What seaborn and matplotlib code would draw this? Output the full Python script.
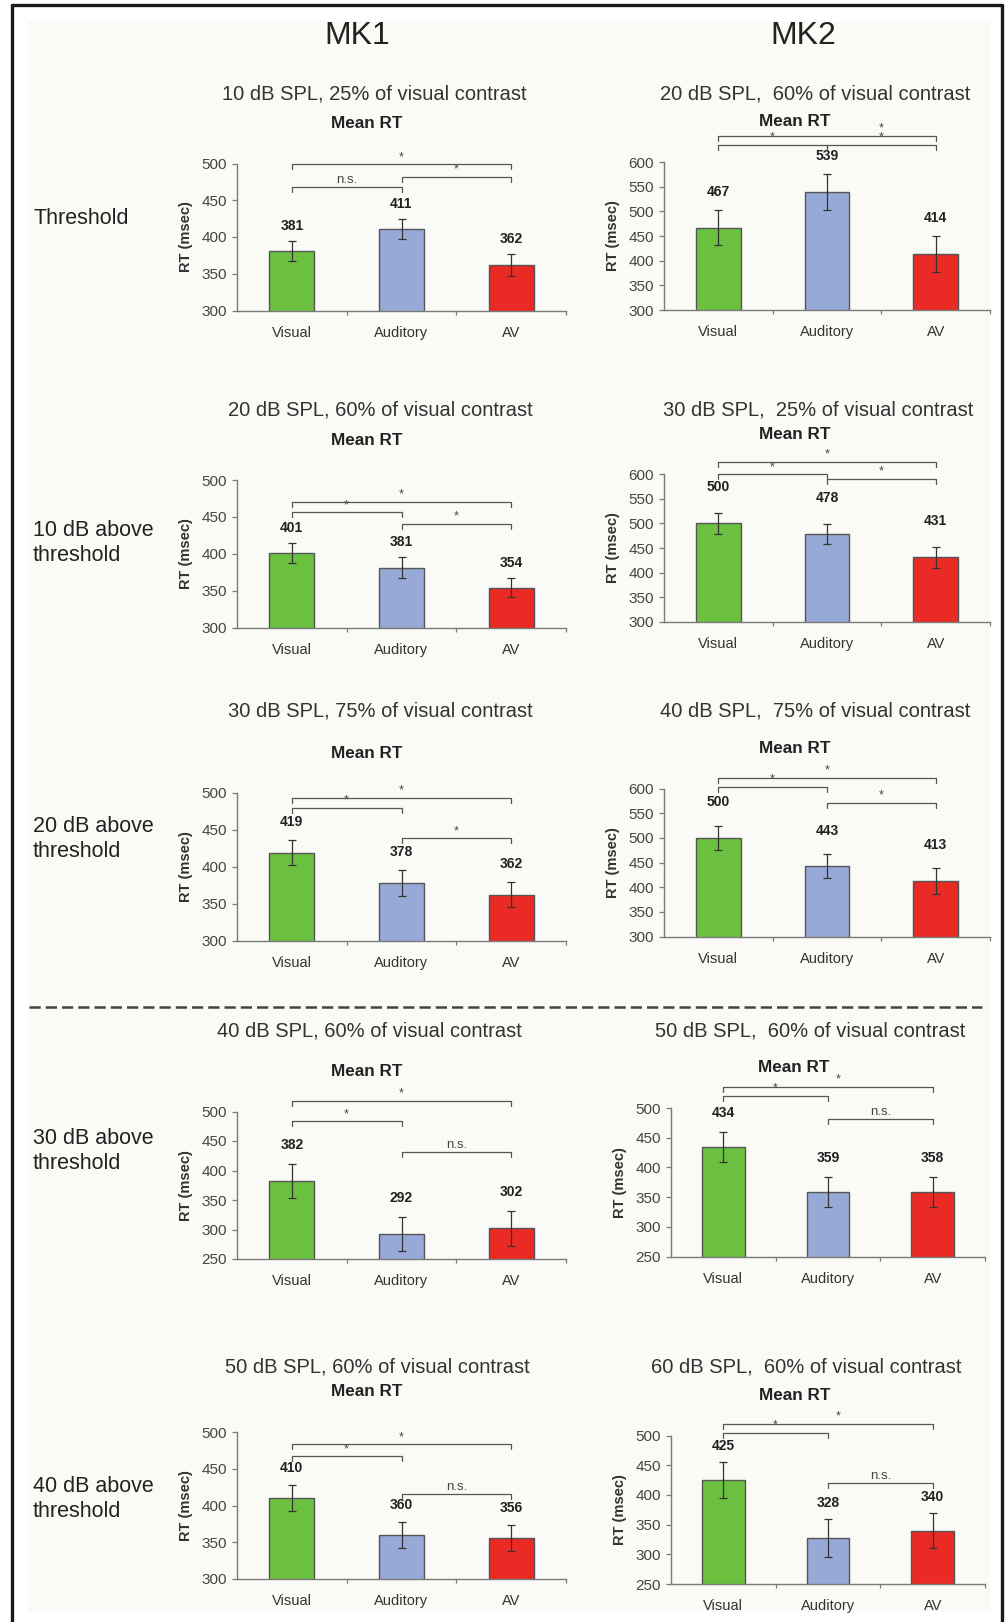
import numpy as np
import pandas as pd
import matplotlib
matplotlib.use('Agg')
import matplotlib.pyplot as plt
from matplotlib.lines import Line2D
from matplotlib.patches import Rectangle
import seaborn as sns

# ---------------- data ----------------
categories = ['Visual', 'Auditory', 'AV']
monkeys = ['MK1', 'MK2']
row_labels = ['Threshold', '10 dB above\nthreshold', '20 dB above\nthreshold',
              '30 dB above\nthreshold', '40 dB above\nthreshold']

mk1_titles = ['10 dB SPL, 25% of visual contrast', '20 dB SPL, 60% of visual contrast',
              '30 dB SPL, 75% of visual contrast', '40 dB SPL, 60% of visual contrast',
              '50 dB SPL, 60% of visual contrast']
mk2_titles = ['20 dB SPL,  60% of visual contrast', '30 dB SPL,  25% of visual contrast',
              '40 dB SPL,  75% of visual contrast', '50 dB SPL,  60% of visual contrast',
              '60 dB SPL,  60% of visual contrast']
panel_title = 'Mean RT'
y_label = 'RT (msec)'

mk1_means = [[381, 411, 362], [401, 381, 354], [419, 378, 362], [382, 292, 302], [410, 360, 356]]
mk1_sems = [[14, 14, 15], [14, 14, 13], [17, 17, 17], [29, 29, 30], [18, 18, 18]]
mk2_means = [[467, 539, 414], [500, 478, 431], [500, 443, 413], [434, 359, 358], [425, 328, 340]]
mk2_sems = [[36, 36, 36], [21, 20, 21], [25, 25, 26], [25, 25, 25], [31, 32, 30]]

mk1_ylims = [(300, 500), (300, 500), (300, 500), (250, 500), (300, 500)]
mk2_ylims = [(300, 600), (300, 600), (300, 600), (250, 500), (250, 500)]

# significance brackets: (from, to, level, label, label x or None)
mk1_sig = [
    [(0, 2, 499, '*', None), (1, 2, 482, '*', None), (0, 1, 468.5, 'n.s.', None)],
    [(0, 2, 470.5, '*', None), (0, 1, 456, '*', None), (1, 2, 441, '*', None)],
    [(0, 2, 493.6, '*', None), (0, 1, 480, '*', None), (1, 2, 439, '*', None)],
    [(0, 2, 518, '*', None), (0, 1, 484, '*', None), (1, 2, 430.6, 'n.s.', None)],
    [(0, 2, 483, '*', None), (0, 1, 467, '*', None), (1, 2, 415.6, 'n.s.', None)],
]
mk2_sig = [
    [(0, 2, 653, '*', 1.5), (0, 1, 635, '*', None), (1, 2, 635, '*', None)],
    [(0, 2, 625.5, '*', None), (0, 1, 600.6, '*', None), (1, 2, 591, '*', None)],
    [(0, 2, 622, '*', None), (0, 1, 603.7, '*', None), (1, 2, 571, '*', None)],
    [(0, 2, 536, '*', 1.1), (0, 1, 521, '*', None), (1, 2, 481, 'n.s.', None)],
    [(0, 2, 519.6, '*', 1.1), (0, 1, 505, '*', None), (1, 2, 420, 'n.s.', None)],
]

# ---------------- style / layout ----------------
bar_colors = ['#6cc040', '#97a9d6', '#ea2a24']
W, H = 1005, 1622

sns.set_theme(style='white')
plt.rcParams['font.family'] = ['Liberation Sans', 'DejaVu Sans']

fig = plt.figure(figsize=(W / 100, H / 100), dpi=100)
fig.patch.set_facecolor('white')


def fx(x):
    return x / W


def fy(y):
    return 1 - y / H


# background panel and frame
fig.patches.append(Rectangle((fx(28), fy(1612)), fx(990) - fx(28), fy(21) - fy(1612),
                             transform=fig.transFigure, facecolor='#fafaf6', edgecolor='none',
                             zorder=-10))
for xs, ys in [([12, 12], [5, 1622]), ([12, 1002], [5, 5]), ([1002, 1002], [5, 1622])]:
    fig.lines.append(Line2D([fx(v) for v in xs], [fy(v) for v in ys], transform=fig.transFigure,
                            color='#1a1a1a', lw=2.4, zorder=5))

# dashed separator
fig.lines.append(Line2D([fx(29), fx(982)], [fy(1007), fy(1007)], transform=fig.transFigure,
                        color='#444444', lw=1.8, linestyle=(0, (4.5, 2)), zorder=5))

# monkey headers
fig.text(fx(357), fy(36), monkeys[0], ha='center', va='center', fontsize=23, color='#222222')
fig.text(fx(803), fy(36), monkeys[1], ha='center', va='center', fontsize=23, color='#222222')

# row labels
row_label_y = [218, 543, 839, 1151, 1499]
for lab, yy in zip(row_labels, row_label_y):
    fig.text(fx(33), fy(yy), lab, ha='left', va='center', fontsize=15.5, color='#222222',
             linespacing=1.22)

mk1_boxes = [(237, 566, 163.5, 310.5), (237, 566, 480, 627.5), (237, 566, 793, 940.5),
             (237, 566, 1111.5, 1259), (237, 566, 1432, 1579)]
mk2_boxes = [(664, 990, 162, 310), (664, 990, 474.3, 621.7), (664, 990, 788.5, 936.5),
             (671, 985, 1108, 1256.5), (671, 985, 1435.5, 1584)]

mk1_title_pos = [(374, 94, 367, 123), (380, 410, 367, 440), (380, 711, 367, 753),
                 (369, 1031, 367, 1071), (377, 1367, 367, 1392)]
mk2_title_pos = [(815, 94, 795, 121), (818, 410, 795, 434), (815, 711, 795, 748),
                 (810, 1031, 794, 1068), (806, 1367, 795, 1396)]

mk1_label_pad = [15, 15, 18, 19, 17]
mk2_label_pad = [18, 26, 23, 19, 16]


def draw_panel(box, means, sems, ylim, sig, pad, tpos, title):
    x0, x1, yt, yb = box
    ax = fig.add_axes([fx(x0), fy(yb), fx(x1) - fx(x0), fy(yt) - fy(yb)])
    ax.set_facecolor('none')
    df = pd.DataFrame({'cond': categories, 'rt': means})
    sns.barplot(data=df, x='cond', y='rt', hue='cond', order=categories, hue_order=categories,
                palette=bar_colors, saturation=1, width=0.41, edgecolor='#555555',
                linewidth=1.0, errorbar=None, legend=False, ax=ax, zorder=2)
    ax.errorbar(np.arange(3), means, yerr=sems, fmt='none', ecolor='#333333',
                elinewidth=0.9, capsize=3, capthick=0.9, zorder=3)
    ax.set_xlim(-0.5, 2.5)
    ax.set_ylim(*ylim)
    ax.set_yticks(np.arange(ylim[0], ylim[1] + 1, 50))
    ax.set_xlabel('')
    ax.set_ylabel('')
    for s in ['top', 'right']:
        ax.spines[s].set_visible(False)
    for s in ['left', 'bottom']:
        ax.spines[s].set_color('#7a7a7a')
        ax.spines[s].set_linewidth(1.0)
    ax.tick_params(axis='y', direction='out', length=3.6, width=0.9, color='#7a7a7a',
                   labelsize=11, labelcolor='#444444', pad=3.5, left=True)
    ax.tick_params(axis='x', which='major', length=0, labelsize=10.5, labelcolor='#333333',
                   pad=11)
    ax.set_xticks([0.5, 1.5, 2.5], minor=True)
    ax.tick_params(axis='x', which='minor', direction='out', length=3, width=0.9,
                   color='#7a7a7a', bottom=True)
    # value labels
    for i, (m, s) in enumerate(zip(means, sems)):
        ax.annotate(str(m), xy=(i, m + s), xytext=(0, pad), textcoords='offset pixels',
                    ha='center', va='center', fontsize=10, fontweight='bold', color='#222222',
                    annotation_clip=False)
    # brackets
    depth = 5 * (ylim[1] - ylim[0]) / (yb - yt)
    for a, b, lev, lab, lx in sig:
        ax.plot([a, a, b, b], [lev - depth, lev, lev, lev - depth], color='#555555', lw=0.9,
                clip_on=False, zorder=4)
        xl = (a + b) / 2 if lx is None else lx
        ax.annotate(lab, xy=(xl, lev), xytext=(0, 1), textcoords='offset pixels',
                    ha='center', va='bottom', fontsize=9 if lab == '*' else 9.5,
                    color='#444444', annotation_clip=False)
    # titles
    tx, ty, mx, my = tpos
    fig.text(fx(tx), fy(ty), title, ha='center', va='center', fontsize=14.5, color='#333333')
    fig.text(fx(mx), fy(my), panel_title, ha='center', va='center', fontsize=12.3,
             fontweight='bold', color='#222222')
    fig.text(fx(x0 - 51), fy((yt + yb) / 2), y_label, rotation=90, ha='center', va='center',
             fontsize=10.5, fontweight='bold', color='#333333')
    return ax


for r in range(5):
    draw_panel(mk1_boxes[r], mk1_means[r], mk1_sems[r], mk1_ylims[r], mk1_sig[r],
               mk1_label_pad[r], mk1_title_pos[r], mk1_titles[r])
    draw_panel(mk2_boxes[r], mk2_means[r], mk2_sems[r], mk2_ylims[r], mk2_sig[r],
               mk2_label_pad[r], mk2_title_pos[r], mk2_titles[r])

fig.savefig('out.png', dpi=100, facecolor='white')
